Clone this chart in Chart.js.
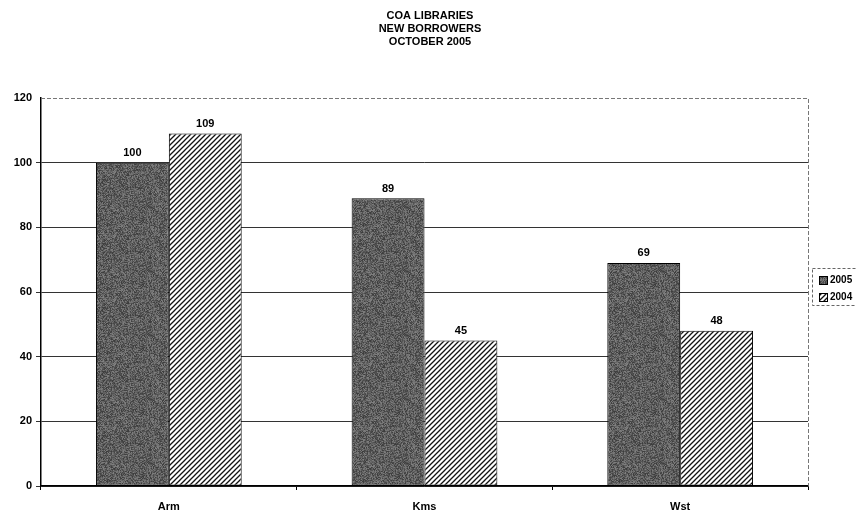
<!DOCTYPE html>
<html>
<head>
<meta charset="utf-8">
<title>COA Libraries New Borrowers</title>
<script src="https://cdn.jsdelivr.net/npm/chart.js@4"></script>
<style>
  html, body { margin: 0; padding: 0; background: #fff; }
  #wrap { width: 856px; height: 513px; }
</style>
</head>
<body>
<div id="wrap"><canvas id="barChart" width="856" height="513"></canvas></div>
<script>
var categories = ["Arm", "Kms", "Wst"];
var values2005 = [100, 89, 69];
var values2004 = [109, 45, 48];
var yTicks = [0, 20, 40, 60, 80, 100, 120];
var titleLines = ["COA LIBRARIES", "NEW BORROWERS", "OCTOBER 2005"];

var FONT = "'Liberation Sans', Arial, sans-serif";

// dark speckled fill, seeded so it looks the same every time
function makeStipple(){
    var c = document.createElement("canvas");
    c.width = 64; c.height = 64;
    var g = c.getContext("2d");
    var img = g.createImageData(64, 64);
    var seed = 12345;
    for(var i = 0; i < 64*64; i++){
        seed = (seed * 1103515245 + 12345) & 0x7fffffff;
        var v = 60 + (seed % 70);
        img.data[i*4] = v; img.data[i*4+1] = v; img.data[i*4+2] = v; img.data[i*4+3] = 255;
    }
    g.putImageData(img, 0, 0);
    return g.createPattern(c, "repeat");
}

function makeHatch(){
    var s = 5;
    var c = document.createElement("canvas");
    c.width = s; c.height = s;
    var g = c.getContext("2d");
    g.fillStyle = "#fff";
    g.fillRect(0, 0, s, s);
    g.strokeStyle = "#111";
    g.lineWidth = 1.3;
    g.beginPath();
    g.moveTo(0, s); g.lineTo(s, 0);
    g.moveTo(-1, 1); g.lineTo(1, -1);
    g.moveTo(s-1, s+1); g.lineTo(s+1, s-1);
    g.stroke();
    return g.createPattern(c, "repeat");
}

var stipple = makeStipple();
var hatch = makeHatch();

var topTitle = {
    id: "topTitle",
    afterDraw: function(chart){
        var ctx = chart.ctx;
        ctx.save();
        ctx.font = "bold 11px " + FONT;
        ctx.fillStyle = "#000";
        ctx.textAlign = "center";
        ctx.textBaseline = "middle";
        titleLines.forEach(function(t, i){
            ctx.fillText(t, 430, 16 + i * 13);
        });
        ctx.restore();
    }
};

var plotBorder = {
    id: "plotBorder",
    beforeDatasetsDraw: function(chart){
        var a = chart.chartArea, ctx = chart.ctx;
        ctx.save();
        ctx.strokeStyle = "#777";
        ctx.lineWidth = 1;
        ctx.setLineDash([4, 2]);
        ctx.beginPath();
        ctx.moveTo(a.left, a.top + 0.5);
        ctx.lineTo(a.right + 0.5, a.top + 0.5);
        ctx.lineTo(a.right + 0.5, a.bottom);
        ctx.stroke();
        ctx.restore();
    }
};

var valueLabels = {
    id: "valueLabels",
    afterDatasetsDraw: function(chart){
        var ctx = chart.ctx;
        ctx.save();
        ctx.font = "bold 11px " + FONT;
        ctx.fillStyle = "#000";
        ctx.textAlign = "center";
        ctx.textBaseline = "bottom";
        chart.data.datasets.forEach(function(ds, i){
            chart.getDatasetMeta(i).data.forEach(function(bar, j){
                ctx.fillText(String(ds.data[j]), bar.x, bar.y - 4);
            });
        });
        ctx.restore();
    }
};

var sideLegend = {
    id: "sideLegend",
    afterDraw: function(chart){
        var ctx = chart.ctx;
        var x = 812, y = 268;
        ctx.save();
        ctx.strokeStyle = "#666";
        ctx.lineWidth = 1;
        ctx.setLineDash([3, 2]);
        ctx.strokeRect(x + 0.5, y + 0.5, 60, 37);
        ctx.setLineDash([]);
        ctx.font = "bold 10px " + FONT;
        ctx.textBaseline = "middle";
        ctx.textAlign = "left";
        chart.data.datasets.forEach(function(ds, i){
            var sy = y + 8 + i * 17;
            ctx.fillStyle = ds.backgroundColor;
            ctx.fillRect(x + 7, sy, 8, 8);
            ctx.strokeStyle = "#000";
            ctx.strokeRect(x + 7.5, sy + 0.5, 8, 8);
            ctx.fillStyle = "#000";
            ctx.fillText(ds.label, x + 18, sy + 4.5);
        });
        ctx.restore();
    }
};

var ctx = document.getElementById("barChart").getContext("2d");
var barChart = new Chart(ctx, {
    type: "bar",
    data: {
        labels: categories,
        datasets: [{
            label: "2005",
            data: values2005,
            backgroundColor: stipple,
            borderColor: "#000",
            borderWidth: 1,
            borderSkipped: false
        }, {
            label: "2004",
            data: values2004,
            backgroundColor: hatch,
            borderColor: "#000",
            borderWidth: 1,
            borderSkipped: false
        }]
    },
    options: {
        responsive: false,
        animation: false,
        layout: { padding: { left: 0, right: 48, top: 98, bottom: 0 } },
        datasets: { bar: { barPercentage: 1, categoryPercentage: 0.57 } },
        scales: {
            x: {
                grid: { offset: true, drawOnChartArea: false, color: "#000", tickLength: 4 },
                border: { color: "#000", width: 1.5 },
                ticks: { color: "#000", padding: 10, font: { family: FONT, size: 11, weight: "bold" } },
                afterFit: function(scale){ scale.height = 27; }
            },
            y: {
                min: 0, max: 120,
                afterBuildTicks: function(scale){
                    scale.ticks = yTicks.map(function(v){ return { value: v }; });
                },
                grid: {
                    color: function(c){ return c.tick && c.tick.value === 120 ? "rgba(0,0,0,0)" : "#333"; },
                    tickLength: 5
                },
                border: { color: "#000", width: 1.5 },
                ticks: { color: "#000", padding: 4, font: { family: FONT, size: 11, weight: "bold" } },
                afterFit: function(scale){ scale.width = 41; }
            }
        },
        plugins: {
            legend: { display: false },
            tooltip: { enabled: false },
            title: { display: false }
        }
    },
    plugins: [topTitle, plotBorder, valueLabels, sideLegend]
});
</script>
</body>
</html>
